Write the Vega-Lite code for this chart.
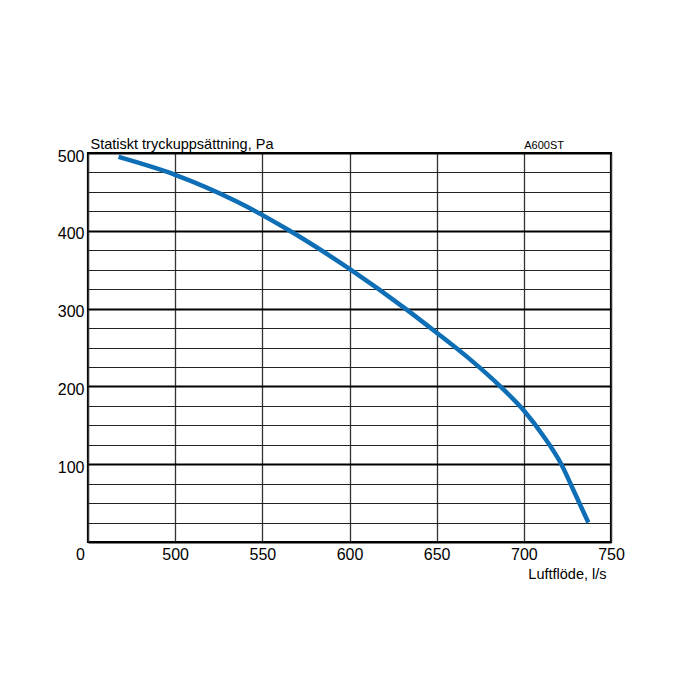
{
  "$schema": "https://vega.github.io/schema/vega-lite/v6.json",
  "autosize": "none",
  "width": 523,
  "height": 389,
  "padding": {"left": 88, "top": 153, "right": 89, "bottom": 158},
  "background": "white",
  "config": {
    "font": "Liberation Sans",
    "view": {"stroke": "black", "strokeWidth": 2.2}
  },
  "title": {
    "text": "A600ST",
    "anchor": "end",
    "orient": "top",
    "frame": "group",
    "fontSize": 11,
    "fontWeight": "normal",
    "color": "black",
    "dx": -47,
    "offset": -15,
    "font": "Liberation Sans"
  },
  "data": {
    "values": [
      {"flow": 467.5, "pressure": 495},
      {"flow": 500, "pressure": 472},
      {"flow": 535, "pressure": 438},
      {"flow": 565, "pressure": 401},
      {"flow": 600, "pressure": 351},
      {"flow": 632, "pressure": 300},
      {"flow": 650, "pressure": 269},
      {"flow": 668.5, "pressure": 236},
      {"flow": 686.5, "pressure": 200},
      {"flow": 700, "pressure": 169},
      {"flow": 711, "pressure": 137},
      {"flow": 721.5, "pressure": 100},
      {"flow": 729, "pressure": 64},
      {"flow": 737, "pressure": 25}
    ]
  },
  "mark": {"type": "line", "color": "#0f6fb6", "strokeWidth": 4.5, "interpolate": "monotone", "strokeCap": "butt"},
  "encoding": {
    "x": {
      "field": "flow",
      "type": "quantitative",
      "scale": {"domain": [450, 750], "nice": false, "zero": false},
      "axis": {
        "values": [450, 500, 550, 600, 650, 700, 750],
        "labelExpr": "datum.value == 450 ? '0' : datum.label",
        "labelOffset": {"condition": {"test": "datum.value == 450", "value": -8}, "value": 0},
        "labelFontSize": 16,
        "labelColor": "black",
        "labelPadding": 4,
        "labelFlush": false,
        "ticks": false,
        "domain": false,
        "grid": true,
        "gridColor": "#333333",
        "gridWidth": 1.3,
        "gridOpacity": 1,
        "title": "Luftflöde, l/s",
        "titleFontSize": 14.5,
        "titleFontWeight": "normal",
        "titleColor": "black",
        "titleAlign": "right",
        "titleAnchor": null,
        "titleX": 518,
        "titleY": 36,
        "titleBaseline": "alphabetic"
      }
    },
    "y": {
      "field": "pressure",
      "type": "quantitative",
      "scale": {"domain": [0, 500], "nice": false},
      "axis": {
        "values": [0, 25, 50, 75, 100, 125, 150, 175, 200, 225, 250, 275, 300, 325, 350, 375, 400, 425, 450, 475, 500],
        "labelExpr": "datum.value % 100 == 0 && datum.value > 0 ? datum.label : ''",
        "labelFontSize": 16,
        "labelColor": "black",
        "labelPadding": 4,
        "labelOffset": 3,
        "labelFlush": false,
        "labelOverlap": false,
        "ticks": false,
        "domain": false,
        "grid": true,
        "gridColor": {"condition": {"test": "datum.value % 100 == 0", "value": "black"}, "value": "#222222"},
        "gridWidth": {"condition": {"test": "datum.value % 100 == 0", "value": 2.2}, "value": 1.1},
        "gridOpacity": 1,
        "title": "Statiskt tryckuppsättning, Pa",
        "titleFontSize": 14.5,
        "titleFontWeight": "normal",
        "titleColor": "black",
        "titleAngle": 0,
        "titleAlign": "left",
        "titleAnchor": null,
        "titleX": 2,
        "titleY": -5,
        "titleBaseline": "alphabetic"
      }
    }
  }
}
